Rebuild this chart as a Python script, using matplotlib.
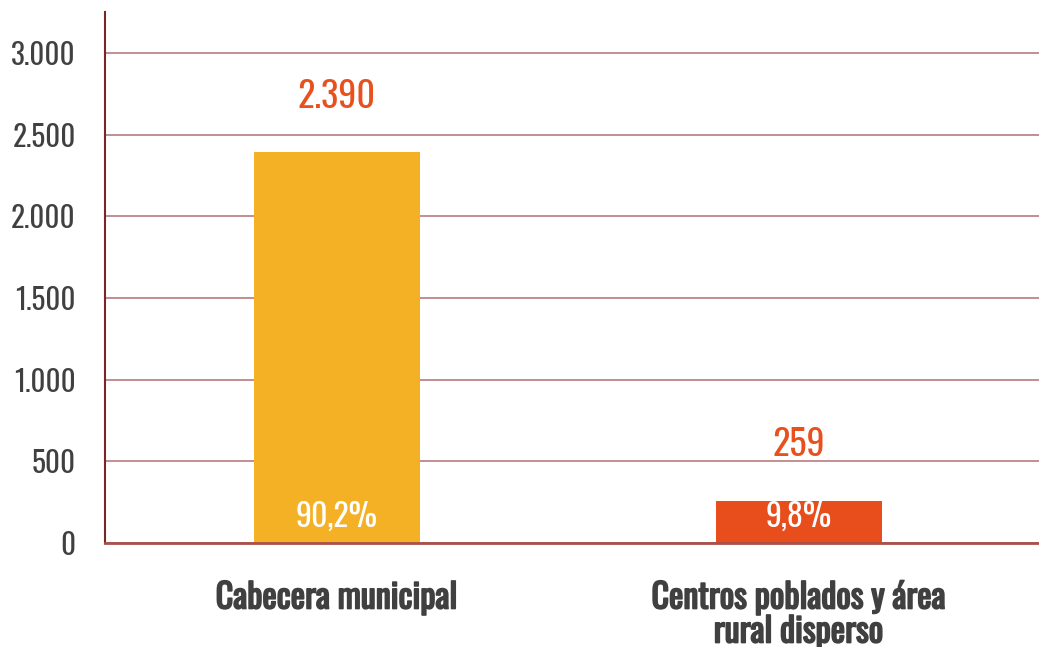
import matplotlib
matplotlib.use('Agg')
import matplotlib.pyplot as plt
from matplotlib import font_manager
import matplotlib.patheffects as pe

categorias = ['Cabecera municipal', 'Centros poblados y área\nrural disperso']
valores = [2390, 259]
etiquetas_valor = ['2.390', '259']
porcentajes = ['90,2%', '9,8%']
yticks = [0, 500, 1000, 1500, 2000, 2500, 3000]
ytick_labels = ['0', '500', '1.000', '1.500', '2.000', '2.500', '3.000']

colores = ['#F4B125', '#E84E1B']

# fuente condensada si existe
fuentes = font_manager.fontManager.ttflist
nombres = {f.name for f in fuentes}
fuente = 'DejaVu Sans'
for f in ['Oswald', 'Roboto Condensed', 'Liberation Sans Narrow']:
    if f in nombres:
        fuente = f
        break
plt.rcParams['font.family'] = [fuente, 'DejaVu Sans']

# variante negrita de la fuente, si la hay
negrita = None
for f in fuentes:
    if f.name == fuente and f.weight in (600, 700, 'bold', 'semibold'):
        negrita = fuente
for f in [fuente + ' Bold', fuente + ' SemiBold']:
    if f in nombres and negrita is None:
        negrita = f

fig = plt.figure(figsize=(10.39, 6.47), dpi=100)
ax = fig.add_axes([0.101, 0.1607, 0.899, 0.8208])

x = list(range(len(categorias)))
ax.bar(x, valores, width=0.36, color=colores, zorder=3)

ax.set_xlim(-0.502, 1.52)
ax.set_ylim(0, 3250)
ax.set_yticks(yticks)
ax.set_yticklabels(ytick_labels, fontsize=21, color='#404040')
ax.set_xticks(x)
etiq = ax.set_xticklabels(categorias, fontsize=24.5, fontweight='bold',
                          color='#404040', linespacing=1.0,
                          family=[negrita or fuente, 'DejaVu Sans'])
if negrita is None:
    for t in etiq:
        t.set_path_effects([pe.withStroke(linewidth=1.2, foreground='#404040')])
ax.tick_params(axis='y', length=0, pad=21)
ax.tick_params(axis='x', length=0, pad=27)

ax.grid(axis='y', color='#b87c7c', linewidth=1.2, zorder=0)
for s in ['top', 'right']:
    ax.spines[s].set_visible(False)
ax.spines['left'].set_color('#7a2626')
ax.spines['left'].set_linewidth(1.5)
ax.spines['bottom'].set_color('#a8504a')
ax.spines['bottom'].set_linewidth(2)
ax.spines['bottom'].set_zorder(4)

for xi, v, et in zip(x, valores, etiquetas_valor):
    ax.annotate(et, (xi, v), xytext=(0, 27), textcoords='offset points',
                ha='center', va='bottom', fontsize=26, color='#E8501E')

for xi, p in zip(x, porcentajes):
    ax.annotate(p, (xi, 0), xytext=(0, 19), textcoords='offset points',
                ha='center', va='center', fontsize=23, color='white', zorder=5)

fig.savefig('out.png', dpi=100)
